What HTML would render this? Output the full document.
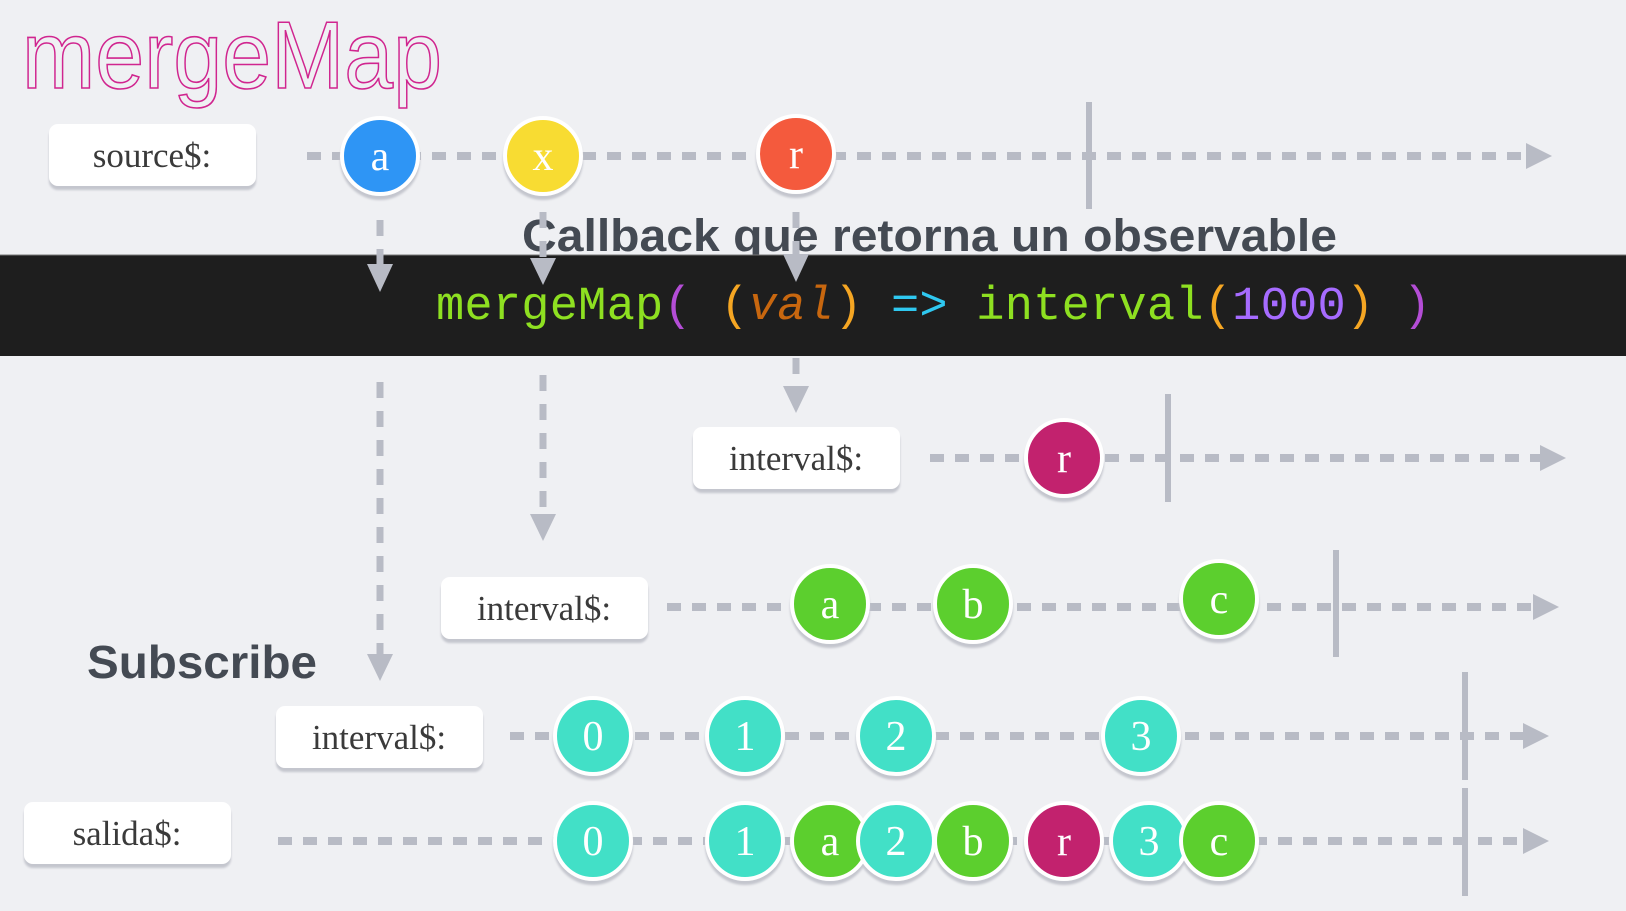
<!DOCTYPE html>
<html><head><meta charset="utf-8"><style>
html,body{margin:0;padding:0;background:#eff0f3;}
svg{display:block}
.lbl{font-family:"Liberation Serif",serif;font-size:35px;fill:#3a3a3a}
.ct{font-family:"Liberation Serif",serif;font-size:42px;fill:#fff;text-anchor:middle}
.dl{stroke:#b8bbc5;stroke-width:8;stroke-dasharray:14 11;fill:none}
.dv{stroke:#b8bbc5;stroke-width:7;stroke-dasharray:16 13;fill:none}
.bar{stroke:#b8bbc5;stroke-width:6}
.ah{fill:#b8bbc5}
</style></head><body>
<svg width="1626" height="911" viewBox="0 0 1626 911" xmlns="http://www.w3.org/2000/svg">
<defs>
<filter id="sh" x="-20%" y="-20%" width="140%" height="150%"><feDropShadow dx="0" dy="4" stdDeviation="1" flood-color="#c4c6ce" flood-opacity="1"/></filter>
</defs>
<rect width="1626" height="911" fill="#eff0f3"/>
<text x="22" y="88" font-family="Liberation Sans,sans-serif" font-size="96" fill="none" stroke="#d0258f" stroke-width="1.6" textLength="420" lengthAdjust="spacingAndGlyphs">mergeMap</text>

<!-- source$ row -->
<line class="dl" x1="307" y1="156" x2="1530" y2="156"/>
<polygon class="ah" points="1526,143 1552,156 1526,169"/>
<line class="bar" x1="1089" y1="102" x2="1089" y2="209"/>
<rect x="49" y="124" width="207" height="62" rx="9" fill="#fff" filter="url(#sh)"/>
<text class="lbl" x="152" y="167" text-anchor="middle">source$:</text>

<text x="522" y="251" font-family="Liberation Sans,sans-serif" font-weight="bold" font-size="45" fill="#444a53" textLength="815" lengthAdjust="spacingAndGlyphs">Callback que retorna un observable</text>

<!-- band -->
<rect x="0" y="255" width="1626" height="101" fill="#1e1e1e"/>
<line x1="0" y1="255" x2="1626" y2="255" stroke="#777" stroke-width="1"/>
<text x="436" y="319" font-family="Liberation Mono,monospace" font-size="47" xml:space="preserve" textLength="995" lengthAdjust="spacing"><tspan fill="#8ee021">mergeMap</tspan><tspan fill="#b44dd6">(</tspan><tspan fill="#f5a623"> (</tspan><tspan fill="#c8670f" font-style="italic">val</tspan><tspan fill="#f5a623">)</tspan><tspan fill="#2fc8f0"> =&gt; </tspan><tspan fill="#8ee021">interval</tspan><tspan fill="#f5a623">(</tspan><tspan fill="#a66bff">1000</tspan><tspan fill="#f5a623">)</tspan><tspan fill="#b44dd6"> )</tspan></text>

<!-- vertical arrows above/into band -->
<line class="dv" x1="380" y1="220" x2="380" y2="268"/>
<polygon class="ah" points="367,264 393,264 380,292"/>
<line class="dv" x1="543" y1="212" x2="543" y2="262"/>
<polygon class="ah" points="530,258 556,258 543,285"/>
<line class="dv" x1="796" y1="212" x2="796" y2="256"/>
<polygon class="ah" points="783,254 809,254 796,282"/>

<!-- vertical arrows below band -->
<line class="dv" x1="796" y1="358" x2="796" y2="390"/>
<polygon class="ah" points="783,386 809,386 796,413"/>
<line class="dv" x1="543" y1="375" x2="543" y2="515"/>
<polygon class="ah" points="530,514 556,514 543,541"/>
<line class="dv" x1="380" y1="382" x2="380" y2="655"/>
<polygon class="ah" points="367,654 393,654 380,681"/>

<!-- row1 -->
<line class="dl" x1="930" y1="458" x2="1545" y2="458"/>
<polygon class="ah" points="1540,445 1566,458 1540,471"/>
<line class="bar" x1="1168" y1="394" x2="1168" y2="502"/>
<rect x="693" y="427" width="207" height="62" rx="9" fill="#fff" filter="url(#sh)"/>
<text class="lbl" x="796" y="470" text-anchor="middle">interval$:</text>

<!-- row2 -->
<line class="dl" x1="667" y1="607" x2="1538" y2="607"/>
<polygon class="ah" points="1533,594 1559,607 1533,620"/>
<line class="bar" x1="1336" y1="550" x2="1336" y2="657"/>
<rect x="441" y="577" width="207" height="62" rx="9" fill="#fff" filter="url(#sh)"/>
<text class="lbl" x="544" y="620" text-anchor="middle">interval$:</text>

<text x="87" y="678" font-family="Liberation Sans,sans-serif" font-weight="bold" font-size="46" fill="#444a53" textLength="230" lengthAdjust="spacingAndGlyphs">Subscribe</text>

<!-- row3 -->
<line class="dl" x1="510" y1="736" x2="1528" y2="736"/>
<polygon class="ah" points="1523,723 1549,736 1523,749"/>
<line class="bar" x1="1465" y1="672" x2="1465" y2="780"/>
<rect x="276" y="706" width="207" height="62" rx="9" fill="#fff" filter="url(#sh)"/>
<text class="lbl" x="379" y="749" text-anchor="middle">interval$:</text>

<!-- row4 -->
<line class="dl" x1="278" y1="841" x2="1528" y2="841"/>
<polygon class="ah" points="1523,828 1549,841 1523,854"/>
<line class="bar" x1="1465" y1="788" x2="1465" y2="896"/>
<rect x="24" y="802" width="207" height="62" rx="9" fill="#fff" filter="url(#sh)"/>
<text class="lbl" x="127" y="845" text-anchor="middle">salida$:</text>

<!-- circles -->
<g filter="url(#sh)" stroke="#fff" stroke-width="4">
<circle cx="380" cy="156" r="38" fill="#2d95f5"/>
<circle cx="543" cy="156" r="38" fill="#f8dc30"/>
<circle cx="796" cy="154" r="38" fill="#f45a3d"/>
<circle cx="1064" cy="458" r="38" fill="#c2226e"/>
<circle cx="830" cy="604" r="38" fill="#5ccf2e"/>
<circle cx="973" cy="604" r="38" fill="#5ccf2e"/>
<circle cx="1219" cy="599" r="38" fill="#5ccf2e"/>
<circle cx="593" cy="736" r="38" fill="#43e0c7"/>
<circle cx="745" cy="736" r="38" fill="#43e0c7"/>
<circle cx="896" cy="736" r="38" fill="#43e0c7"/>
<circle cx="1141" cy="736" r="38" fill="#43e0c7"/>
<circle cx="593" cy="841" r="38" fill="#43e0c7"/>
<circle cx="745" cy="841" r="38" fill="#43e0c7"/>
<circle cx="830" cy="841" r="38" fill="#5ccf2e"/>
<circle cx="896" cy="841" r="38" fill="#43e0c7"/>
<circle cx="973" cy="841" r="38" fill="#5ccf2e"/>
<circle cx="1064" cy="841" r="38" fill="#c2226e"/>
<circle cx="1149" cy="841" r="38" fill="#43e0c7"/>
<circle cx="1219" cy="841" r="38" fill="#5ccf2e"/>
</g>
<g>
<text class="ct" x="380" y="170">a</text>
<text class="ct" x="543" y="170">x</text>
<text class="ct" x="796" y="168">r</text>
<text class="ct" x="1064" y="472">r</text>
<text class="ct" x="830" y="618">a</text>
<text class="ct" x="973" y="618">b</text>
<text class="ct" x="1219" y="613">c</text>
<text class="ct" x="593" y="750">0</text>
<text class="ct" x="745" y="750">1</text>
<text class="ct" x="896" y="750">2</text>
<text class="ct" x="1141" y="750">3</text>
<text class="ct" x="593" y="855">0</text>
<text class="ct" x="745" y="855">1</text>
<text class="ct" x="830" y="855">a</text>
<text class="ct" x="896" y="855">2</text>
<text class="ct" x="973" y="855">b</text>
<text class="ct" x="1064" y="855">r</text>
<text class="ct" x="1149" y="855">3</text>
<text class="ct" x="1219" y="855">c</text>
</g>
</svg>
</body></html>
